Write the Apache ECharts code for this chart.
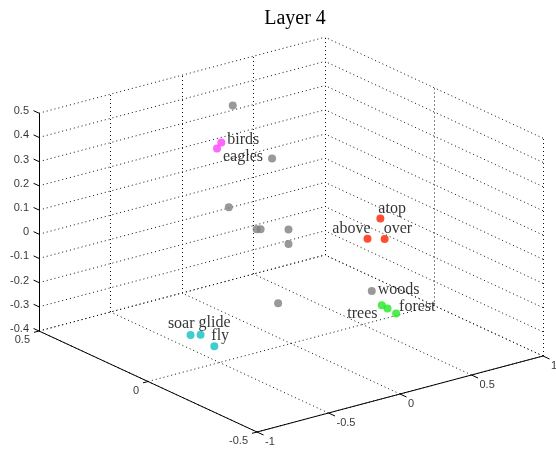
<!DOCTYPE html>
<html><head><meta charset="utf-8">
<script src="https://cdn.jsdelivr.net/npm/echarts@6/dist/echarts.min.js"></script>
<style>html,body{margin:0;padding:0;background:#fff}#c{width:556px;height:449px}</style>
</head><body><div id="c"></div>
<script>
// ---- data ----
const titleText = 'Layer 4';
const xTicks = [-1, -0.5, 0, 0.5, 1];
const yTicks = [-0.5, 0, 0.5];
const zTicks = [-0.4, -0.3, -0.2, -0.1, 0, 0.1, 0.2, 0.3, 0.4, 0.5];
const xTickLabels = ['-1', '-0.5', '0', '0.5', '1'];
const yTickLabels = ['-0.5', '0', '0.5'];
const zTickLabels = ['-0.4', '-0.3', '-0.2', '-0.1', '0', '0.1', '0.2', '0.3', '0.4', '0.5'];

const grayX = [0.05, 0.02, -0.13, -0.24, -0.06, -0.17, -0.17, -0.09, 0.26];
const grayY = [0.30, 0.10, 0.20, 0.00, 0.10, -0.10, -0.10, 0.00, -0.20];
const grayZ = [0.45, 0.32, 0.10, 0.11, 0.04, 0.14, 0.08, -0.22, -0.14];

const words = ['birds', 'eagles', 'atop', 'above', 'over', 'woods', 'trees', 'forest', 'soar', 'glide', 'fly'];
const wordGroup = ['animal', 'animal', 'place', 'place', 'place', 'nature', 'nature', 'nature', 'motion', 'motion', 'motion'];
const wordX = [-0.03, -0.06, 0.32, 0.23, 0.35, 0.33, 0.37, 0.43, -0.55, -0.48, -0.46];
const wordY = [0.30, 0.30, -0.20, -0.20, -0.20, -0.20, -0.20, -0.20, 0.10, 0.10, 0.05];
const wordZ = [0.31, 0.29, 0.15, 0.08, 0.06, -0.21, -0.23, -0.26, -0.32, -0.33, -0.36];

// ---- styles / view ----
const groupColor = { animal: '#ff40ff', place: '#ff2000', nature: '#20e820', motion: '#10c0c0' };
const grayColor = '#808080';
const wordLabelStyle = {
  birds:  { align: 'left',  offset: [6, -3] },
  eagles: { align: 'left',  offset: [6, 8] },
  atop:   { align: 'left',  offset: [-2, -10] },
  above:  { align: 'right', offset: [3, -10] },
  over:   { align: 'left',  offset: [-1, -10] },
  woods:  { align: 'left',  offset: [-4, -15] },
  trees:  { align: 'right', offset: [-10, 5] },
  forest: { align: 'left',  offset: [3, -7] },
  soar:   { align: 'right', offset: [4, -11] },
  glide:  { align: 'left',  offset: [-2, -12] },
  fly:    { align: 'left',  offset: [-3, -10] }
};
const VIEW = { ex: [143, 38], ey: [-218, 101], ez: [0, 242] };
const X0 = -1, X1 = 1, Y0 = -0.5, Y1 = 0.5, Z0 = -0.4, Z1 = 0.5;

function proj(x, y, z) {
  return [VIEW.ex[0] * x + VIEW.ey[0] * y + VIEW.ez[0] * z,
          VIEW.ex[1] * x + VIEW.ey[1] * y + VIEW.ez[1] * z];
}
function seg(a, b) { return { coords: [proj(a[0], a[1], a[2]), proj(b[0], b[1], b[2])] }; }

// dotted grid on back walls and floor
const gridSegs = [];
xTicks.forEach(x => { gridSegs.push(seg([x, Y1, Z0], [x, Y1, Z1])); gridSegs.push(seg([x, Y0, Z0], [x, Y1, Z0])); });
yTicks.forEach(y => { gridSegs.push(seg([X1, y, Z0], [X1, y, Z1])); gridSegs.push(seg([X0, y, Z0], [X1, y, Z0])); });
zTicks.forEach(z => { gridSegs.push(seg([X0, Y1, z], [X1, Y1, z])); gridSegs.push(seg([X1, Y0, z], [X1, Y1, z])); });

// solid axes + ticks
const axisSegs = [
  seg([X0, Y1, Z0], [X0, Y1, Z1]),
  seg([X0, Y1, Z0], [X0, Y0, Z0]),
  seg([X0, Y0, Z0], [X1, Y0, Z0])
];
xTicks.forEach(x => axisSegs.push(seg([x, Y0, Z0], [x, Y0 - 0.03, Z0])));
yTicks.forEach(y => axisSegs.push(seg([X0, y, Z0], [X0 - 0.035, y, Z0])));
zTicks.forEach(z => axisSegs.push(seg([X0, Y1, z], [X0, Y1 + 0.025, z])));

const tickFont = { fontFamily: 'Liberation Sans', fontSize: 11, color: '#000' };
function tickSeries(points, labels, align, offset) {
  return {
    type: 'scatter', symbolSize: 0, silent: true, z: 5,
    data: points.map((p, i) => ({ value: p, label: { formatter: labels[i] } })),
    label: Object.assign({ show: true, position: 'inside', align: align, verticalAlign: 'middle', offset: offset, textBorderWidth: 0 }, tickFont)
  };
}

const grayData = grayX.map((x, i) => proj(x, grayY[i], grayZ[i]));
const wordData = words.map((w, i) => ({
  value: proj(wordX[i], wordY[i], wordZ[i]),
  itemStyle: { color: groupColor[wordGroup[i]] },
  label: {
    show: true, formatter: w, position: 'inside',
    align: wordLabelStyle[w].align, verticalAlign: 'middle', offset: wordLabelStyle[w].offset,
    fontFamily: 'Liberation Serif', fontSize: 16, color: '#000', textBorderWidth: 0
  }
}));

const chart = echarts.init(document.getElementById('c'), null, { renderer: 'canvas' });
chart.setOption({
  animation: false,
  backgroundColor: '#fff',
  title: { text: titleText, left: 290, textAlign: 'center', top: 4,
    textStyle: { fontFamily: 'Liberation Serif', fontSize: 20, fontWeight: 'normal', color: '#000' } },
  grid: { left: 0, right: 0, top: 0, bottom: 0 },
  xAxis: { type: 'value', min: -291, max: 265, show: false },
  yAxis: { type: 'value', min: -202.3, max: 246.7, show: false },
  series: [
    { type: 'lines', coordinateSystem: 'cartesian2d', silent: true, z: 1,
      lineStyle: { color: '#111', width: 1, type: [1, 3], opacity: 1 }, data: gridSegs },
    { type: 'lines', coordinateSystem: 'cartesian2d', silent: true, z: 2,
      lineStyle: { color: '#000', width: 1, type: 'solid', opacity: 1 }, data: axisSegs },
    tickSeries(xTicks.map(x => proj(x, Y0, Z0)), xTickLabels, 'left', [8, 10]),
    tickSeries(yTicks.map(y => proj(X0, y, Z0)), yTickLabels, 'right', [-9, 9]),
    tickSeries(zTicks.map(z => proj(X0, Y1, z)), zTickLabels, 'right', [-10, -2]),
    { type: 'scatter', symbol: 'circle', symbolSize: 8, z: 10, data: grayData,
      itemStyle: { color: grayColor } },
    { type: 'scatter', symbol: 'circle', symbolSize: 8, z: 11, data: wordData }
  ]
});
</script></body></html>
